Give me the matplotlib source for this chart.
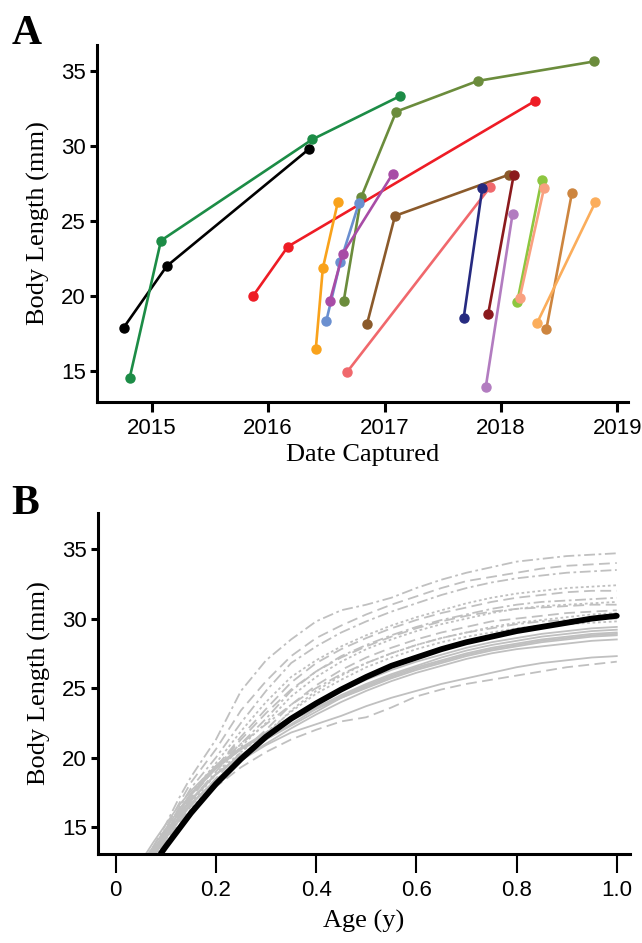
import numpy as np
import matplotlib
matplotlib.use("Agg")
import matplotlib.pyplot as plt

# ---------------- panel A: capture-recapture tracks ----------------
capture_dates = [
    [2014.76, 2015.13, 2016.35],
    [2014.81, 2015.08, 2016.38, 2017.13],
    [2016.65, 2016.80, 2017.10, 2017.80, 2018.80],
    [2015.87, 2016.17, 2018.29],
    [2016.41, 2016.47, 2016.60],
    [2016.50, 2016.62, 2016.78],
    [2016.53, 2016.64, 2017.07],
    [2016.85, 2017.09, 2018.07],
    [2016.68, 2017.91],
    [2017.68, 2017.84],
    [2017.89, 2018.11],
    [2017.87, 2018.10],
    [2018.14, 2018.35],
    [2018.16, 2018.37],
    [2018.39, 2018.61],
    [2018.31, 2018.81],
]
body_lengths = [
    [17.9, 22.0, 29.8],
    [14.5, 23.7, 30.45, 33.33],
    [19.7, 26.6, 32.3, 34.35, 35.65],
    [20.0, 23.3, 33.0],
    [16.5, 21.85, 26.3],
    [18.35, 22.25, 26.2],
    [19.65, 22.8, 28.15],
    [18.15, 25.35, 28.1],
    [14.95, 27.3],
    [18.55, 27.2],
    [18.8, 28.1],
    [13.95, 25.5],
    [19.6, 27.75],
    [19.85, 27.2],
    [17.8, 26.9],
    [18.2, 26.25],
]
track_colors = ["#000000", "#1c8c46", "#6b8c3c", "#ee1c25", "#f9a21b", "#6a8fd0",
                "#a84ca6", "#8b5a2b", "#f0686c", "#262a80", "#8b1a1d", "#b27cc0",
                "#8dc63f", "#f9a07f", "#cd853f", "#fbad5b"]
year_ticks = [2015, 2016, 2017, 2018, 2019]

# ---------------- panel B: growth trajectories ----------------
ages = [0.05, 0.075, 0.10, 0.125, 0.15, 0.20, 0.25, 0.30, 0.35, 0.40, 0.45, 0.50,
        0.55, 0.60, 0.65, 0.70, 0.75, 0.80, 0.85, 0.90, 0.95, 1.00]
grey_curves = [
    [12.3, 13.6, 15.2, 17.0, 18.6, 21.3, 24.8, 27.0, 28.5, 29.8, 30.6, 31.0, 31.5, 32.2, 32.8, 33.3, 33.7, 34.1, 34.3, 34.5, 34.6, 34.7],
    [12.2, 13.4, 14.9, 16.6, 18.2, 20.6, 23.4, 25.5, 27.3, 28.6, 29.5, 30.3, 31.0, 31.6, 32.2, 32.7, 33.0, 33.3, 33.6, 33.8, 33.9, 34.0],
    [12.1, 13.3, 14.7, 16.3, 17.8, 20.0, 22.5, 24.8, 26.8, 28.0, 29.0, 29.8, 30.5, 31.1, 31.7, 32.2, 32.6, 32.9, 33.1, 33.3, 33.4, 33.5],
    [11.9, 13.1, 14.5, 16.0, 17.4, 19.6, 21.9, 24.0, 25.8, 27.0, 28.0, 28.8, 29.5, 30.1, 30.6, 31.1, 31.5, 31.8, 32.0, 32.2, 32.3, 32.4],
    [11.9, 13.0, 14.3, 15.8, 17.1, 19.3, 21.5, 23.5, 25.4, 26.8, 27.8, 28.6, 29.3, 29.9, 30.4, 30.8, 31.2, 31.5, 31.7, 31.9, 32.0, 32.0],
    [11.7, 12.9, 14.2, 15.6, 16.9, 19.0, 21.0, 22.8, 24.8, 26.2, 27.3, 28.1, 28.8, 29.4, 29.9, 30.3, 30.7, 31.0, 31.2, 31.3, 31.4, 31.5],
    [11.6, 12.8, 14.1, 15.4, 16.7, 18.8, 20.8, 22.5, 24.4, 25.8, 26.9, 27.8, 28.5, 29.1, 29.6, 30.0, 30.4, 30.7, 30.9, 31.0, 31.1, 31.2],
    [11.6, 12.7, 14.0, 15.2, 16.5, 18.5, 20.4, 22.0, 23.8, 25.2, 26.3, 27.2, 27.9, 28.5, 29.0, 29.4, 29.8, 30.0, 30.2, 30.4, 30.5, 30.6],
    [11.4, 12.6, 13.8, 15.0, 16.3, 18.3, 20.1, 21.6, 23.4, 24.8, 25.9, 26.8, 27.5, 28.1, 28.6, 29.0, 29.4, 29.7, 29.9, 30.1, 30.3, 30.4],
    [11.8, 13.0, 14.4, 15.9, 17.2, 19.3, 21.3, 23.2, 24.9, 26.2, 27.2, 28.0, 28.7, 29.3, 29.8, 30.2, 30.5, 30.7, 30.8, 30.9, 31.0, 31.0],
    [12.0, 13.2, 14.6, 16.1, 17.4, 19.4, 21.0, 22.4, 23.8, 25.0, 26.0, 26.8, 27.5, 28.1, 28.6, 29.0, 29.3, 29.6, 29.8, 29.9, 30.0, 30.0],
    [11.7, 12.9, 14.3, 15.7, 16.9, 18.8, 20.4, 21.8, 23.3, 24.6, 25.6, 26.5, 27.2, 27.8, 28.3, 28.7, 29.0, 29.3, 29.5, 29.6, 29.7, 29.8],
    [12.0, 13.3, 14.6, 16.0, 17.3, 19.2, 20.6, 21.8, 22.9, 23.9, 24.8, 25.6, 26.3, 26.9, 27.4, 27.9, 28.3, 28.6, 28.9, 29.1, 29.3, 29.4],
    [12.3, 13.6, 14.9, 16.2, 17.4, 19.3, 20.6, 21.7, 22.7, 23.6, 24.5, 25.3, 26.0, 26.6, 27.2, 27.7, 28.1, 28.4, 28.7, 28.9, 29.1, 29.2],
    [11.8, 13.1, 14.4, 15.7, 16.9, 18.8, 20.2, 21.3, 22.4, 23.5, 24.4, 25.2, 25.9, 26.5, 27.0, 27.5, 27.9, 28.2, 28.5, 28.7, 28.9, 29.0],
    [12.5, 13.9, 15.2, 16.5, 17.6, 19.4, 20.7, 21.8, 22.7, 23.5, 24.3, 25.0, 25.7, 26.3, 26.8, 27.3, 27.7, 28.0, 28.3, 28.5, 28.7, 28.8],
    [11.6, 12.9, 14.2, 15.4, 16.6, 18.4, 19.9, 21.0, 22.1, 23.1, 24.0, 24.8, 25.5, 26.1, 26.6, 27.1, 27.5, 27.8, 28.0, 28.2, 28.4, 28.5],
    [12.1, 13.4, 14.7, 15.9, 17.0, 18.8, 20.1, 21.3, 22.3, 23.3, 24.3, 25.1, 25.8, 26.4, 26.9, 27.4, 27.8, 28.1, 28.4, 28.6, 28.8, 28.9],
    [11.8, 13.1, 14.4, 15.6, 16.7, 18.4, 19.8, 20.9, 21.8, 22.4, 23.0, 23.7, 24.3, 24.8, 25.3, 25.7, 26.1, 26.5, 26.8, 27.0, 27.2, 27.3],
    [11.5, 12.7, 13.9, 15.1, 16.2, 17.9, 19.3, 20.4, 21.3, 22.0, 22.6, 22.9, 23.6, 24.4, 24.9, 25.3, 25.6, 25.9, 26.2, 26.5, 26.7, 26.9],
]
curve_styles = [(0, (6, 2, 1.5, 2)), (0, (6, 3)), (0, (6, 2, 1.5, 2)), (0, (1.5, 1.5)),
                (0, (6, 3)), (0, (6, 2, 1.5, 2)), (0, (1.5, 1.5)), (0, (6, 3)),
                (0, (1.5, 1.5)), (0, (6, 3)), (0, (6, 2, 1.5, 2)), (0, (1.5, 1.5)),
                "-", "-", "-", "-", "-", "-", "-", (0, (6, 3))]

mean_ages = [0.09, 0.10, 0.15, 0.20, 0.25, 0.30, 0.35, 0.40, 0.45, 0.50,
             0.55, 0.60, 0.65, 0.70, 0.75, 0.80, 0.85, 0.90, 0.95, 1.00]
mean_length = [13.1, 13.6, 16.0, 18.1, 19.9, 21.5, 22.8, 23.9, 24.9, 25.8,
               26.6, 27.2, 27.8, 28.3, 28.7, 29.1, 29.4, 29.7, 30.0, 30.2]

serif = "Liberation Serif"
sans = "Liberation Sans"

fig = plt.figure(figsize=(6.42, 9.43), dpi=100)


def style_axes(ax, xtick_len, xtick_w):
    for s in ["top", "right"]:
        ax.spines[s].set_visible(False)
    for s in ["left", "bottom"]:
        ax.spines[s].set_linewidth(2.2)
    ax.tick_params(axis="y", direction="out", length=5, width=2.2, labelsize=16, pad=3)
    ax.tick_params(axis="x", direction="out", length=xtick_len, width=xtick_w, labelsize=16, pad=5)
    for lab in ax.get_xticklabels() + ax.get_yticklabels():
        lab.set_fontfamily(sans)


# --- Panel A ---
axA = fig.add_axes([0.151, 0.574, 0.827, 0.378])
for d, L, c in zip(capture_dates, body_lengths, track_colors):
    axA.plot(d, L, "-o", color=c, lw=1.9, ms=6.5, mec=c)
axA.set_xlim(2014.53, 2019.09)
axA.set_ylim(12.95, 36.73)
axA.set_xticks(year_ticks)
axA.set_yticks([15, 20, 25, 30, 35])
style_axes(axA, 7, 2.2)
axA.set_xlabel("Date Captured", fontfamily=serif, fontsize=19, labelpad=3)
axA.set_ylabel("Body Length (mm)", fontfamily=serif, fontsize=19, labelpad=8)
fig.text(0.018, 0.953, "A", fontfamily=serif, fontsize=30, fontweight="bold")

# --- Panel B ---
axB = fig.add_axes([0.153, 0.0944, 0.828, 0.3616])
for ys, ls in zip(grey_curves, curve_styles):
    axB.plot(ages, ys, color="#c0c0c0", lw=1.3, ls=ls)
axB.plot(mean_ages, mean_length, color="black", lw=4.2, solid_capstyle="round")
axB.set_xlim(-0.035, 1.026)
axB.set_ylim(13.06, 37.6)
axB.set_xticks([0, 0.2, 0.4, 0.6, 0.8, 1.0])
axB.set_xticklabels(["0", "0.2", "0.4", "0.6", "0.8", "1.0"])
axB.set_yticks([15, 20, 25, 30, 35])
style_axes(axB, 14, 1.5)
axB.set_xlabel("Age (y)", fontfamily=serif, fontsize=19, labelpad=6)
axB.set_ylabel("Body Length (mm)", fontfamily=serif, fontsize=19, labelpad=8)
fig.text(0.018, 0.455, "B", fontfamily=serif, fontsize=30, fontweight="bold")

fig.savefig("out.png", dpi=100)
